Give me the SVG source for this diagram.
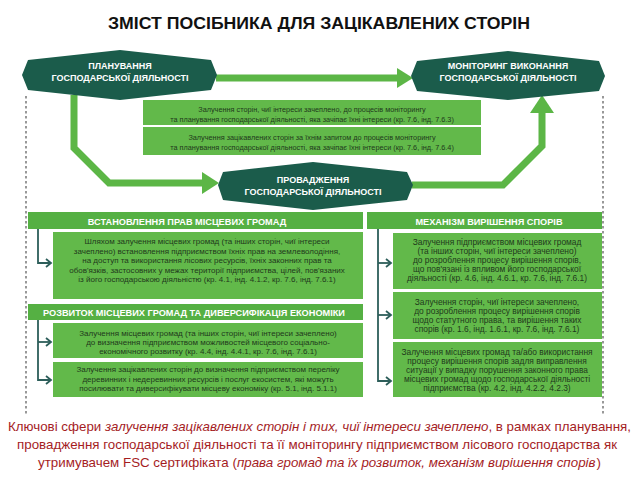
<svg xmlns="http://www.w3.org/2000/svg" width="638" height="479" viewBox="0 0 638 479">
<defs>
<style>
.hex{fill:#1b5c4b}
.hext{font-family:"Liberation Sans",Arial,sans-serif;font-weight:bold;font-size:9px;fill:#ffffff;text-anchor:middle}
.bar{fill:#5cb646}
.hdr{fill:#55b043}
.hdrt{font-family:"Liberation Sans",Arial,sans-serif;font-weight:bold;font-size:9.2px;fill:#ffffff;text-anchor:middle}
.box{fill:#62b94a}
.bt{font-family:"Liberation Sans",Arial,sans-serif;font-size:8px;fill:#1f3a1c;text-anchor:middle}
.bm{font-family:"Liberation Sans",Arial,sans-serif;font-size:7.3px;fill:#1f3a1c;text-anchor:middle}
.br{font-family:"Liberation Sans",Arial,sans-serif;font-size:8.4px;fill:#1f3a1c;text-anchor:middle}
.gc{fill:none;stroke:#5cb646;stroke-width:7;stroke-linejoin:miter}
.ga{fill:#5cb646}
.tc{fill:none;stroke:#2d5e5a;stroke-width:1.8}
.dash{fill:none;stroke:#555;stroke-width:1.2;stroke-dasharray:2.5 2.5}
.cap{font-family:"Liberation Sans",Arial,sans-serif;font-size:13px;fill:#a51d1f;text-anchor:middle}
</style>
<marker id="chev" markerWidth="8" markerHeight="10" refX="6" refY="5" orient="auto" markerUnits="userSpaceOnUse">
<path d="M1,1 L6,5 L1,9" fill="none" stroke="#2d5e5a" stroke-width="1.8"/>
</marker>
</defs>
<rect width="638" height="479" fill="#ffffff"/>

<text x="319" y="29" font-family="Liberation Sans, Arial, sans-serif" font-weight="bold" font-size="16" fill="#111" text-anchor="middle" textLength="422" lengthAdjust="spacingAndGlyphs">ЗМІСТ ПОСІБНИКА ДЛЯ ЗАЦІКАВЛЕНИХ СТОРІН</text>

<g id="dashed">
<line class="dash" x1="26" y1="96" x2="26" y2="415"/>
<line class="dash" x1="603" y1="96" x2="603" y2="415"/>
</g>

<g id="connectors">
<path class="gc" d="M216,78 H399"/>
<polygon class="ga" points="397,68 413,78 397,88"/>
<path class="gc" d="M74,95 V148 L109,183 H204"/>
<polygon class="ga" points="202,172 219,183 202,194"/>
<path class="gc" d="M412,185 H503 L542,146 V111"/>
<polygon class="ga" points="530,113 542,95 554,113"/>
<path class="tc" d="M38,229 V263 H51" marker-end="url(#chev)"/>
<path class="tc" d="M38,320 V380 H51" marker-end="url(#chev)"/>
<path class="tc" d="M38,342 H51" marker-end="url(#chev)"/>
<path class="tc" d="M378,229 V381 H391" marker-end="url(#chev)"/>
<path class="tc" d="M378,263 H391" marker-end="url(#chev)"/>
<path class="tc" d="M378,315 H391" marker-end="url(#chev)"/>
</g>

<g id="planning">
<polygon class="hex" points="22,75 28,60 120,50 211,60 217,75 211,90 120,100 28,90"/>
<text class="hext" x="120" y="69">ПЛАНУВАННЯ</text>
<text class="hext" x="120" y="81">ГОСПОДАРСЬКОЇ ДІЯЛЬНОСТІ</text>
</g>

<g id="monitoring">
<polygon class="hex" points="411,76 417,61 508,51 599,61 605,76 599,91 508,100 417,91"/>
<text class="hext" x="508" y="69">МОНІТОРИНГ ВИКОНАННЯ</text>
<text class="hext" x="508" y="81">ГОСПОДАРСЬКОЇ ДІЯЛЬНОСТІ</text>
</g>

<g id="implementation">
<polygon class="hex" points="218,185 223,172 313,162 407,172 413,185 407,200 313,210 223,200"/>
<text class="hext" x="313" y="182.5">ПРОВАДЖЕННЯ</text>
<text class="hext" x="313" y="195">ГОСПОДАРСЬКОЇ ДІЯЛЬНОСТІ</text>
</g>

<g id="mid1">
<rect class="box" x="143" y="100" width="338" height="25"/>
<text class="bm" x="312" y="112">Залучення сторін, чиї інтереси зачеплено, до процесів моніторингу</text>
<text class="bm" x="312" y="121.5">та планування господарської діяльності, яка зачіпає їхні інтереси (кр. 7.6, інд. 7.6.3)</text>
</g>
<g id="mid2">
<rect class="box" x="143" y="127" width="338" height="28"/>
<text class="bm" x="312" y="140">Залучення зацікавлених сторін за їхнім запитом до процесів моніторингу</text>
<text class="bm" x="312" y="149.5">та планування господарської діяльності, яка зачіпає їхні інтереси (кр. 7.6, інд. 7.6.4)</text>
</g>

<g id="hdr-rights">
<rect class="hdr" x="28" y="212" width="335" height="17"/>
<text class="hdrt" x="187" y="224.5">ВСТАНОВЛЕННЯ ПРАВ МІСЦЕВИХ ГРОМАД</text>
</g>
<g id="hdr-disputes">
<rect class="hdr" x="367" y="212" width="235" height="17"/>
<text class="hdrt" x="489" y="224.5">МЕХАНІЗМ ВИРІШЕННЯ СПОРІВ</text>
</g>

<g id="rights-box">
<rect class="box" x="53" y="232" width="310" height="67"/>
<text class="bt" x="207" y="244">Шляхом залучення місцевих громад (та інших сторін, чиї інтереси</text>
<text class="bt" x="207" y="253.5">зачеплено) встановлення підприємством їхніх прав на землеволодіння,</text>
<text class="bt" x="207" y="263">на доступ та використання лісових ресурсів, їхніх законних прав та</text>
<text class="bt" x="207" y="272.5">обов'язків, застосовних у межах території підприємства, цілей, пов'язаних</text>
<text class="bt" x="207" y="282">із його господарською діяльністю (кр. 4.1, інд. 4.1.2, кр. 7.6, інд. 7.6.1)</text>
</g>

<g id="hdr-development">
<rect class="hdr" x="28" y="304" width="335" height="16"/>
<text class="hdrt" x="194" y="315.5">РОЗВИТОК МІСЦЕВИХ ГРОМАД ТА ДИВЕРСИФІКАЦІЯ ЕКОНОМІКИ</text>
</g>

<g id="dev-box1">
<rect class="box" x="53" y="323" width="310" height="35"/>
<text class="bt" x="208" y="336">Залучення місцевих громад (та інших сторін, чиї інтереси зачеплено)</text>
<text class="bt" x="208" y="345">до визначення підприємством можливостей місцевого соціально-</text>
<text class="bt" x="208" y="354">економічного розвитку (кр. 4.4, інд. 4.4.1, кр. 7.6, інд. 7.6.1)</text>
</g>
<g id="dev-box2">
<rect class="box" x="53" y="362" width="310" height="35"/>
<text class="bt" x="208" y="372">Залучення зацікавлених сторін до визначення підприємством переліку</text>
<text class="bt" x="208" y="381.5">деревинних і недеревинних ресурсів і послуг екосистем, які можуть</text>
<text class="bt" x="208" y="391">посилювати та диверсифікувати місцеву економіку (кр. 5.1, інд. 5.1.1)</text>
</g>

<g id="disp-box1">
<rect class="box" x="393" y="233" width="209" height="56"/>
<text class="br" x="497" y="245">Залучення підприємством місцевих громад</text>
<text class="br" x="497" y="254">(та інших сторін, чиї інтереси зачеплено)</text>
<text class="br" x="497" y="263">до розроблення процесу вирішення спорів,</text>
<text class="br" x="497" y="272">що пов'язані із впливом його господарської</text>
<text class="br" x="497" y="281">діяльності (кр. 4.6, інд. 4.6.1, кр. 7.6, інд. 7.6.1)</text>
</g>
<g id="disp-box2">
<rect class="box" x="393" y="292" width="209" height="47"/>
<text class="br" x="497" y="305">Залучення сторін, чиї інтереси зачеплено,</text>
<text class="br" x="497" y="314">до розроблення процесу вирішення спорів</text>
<text class="br" x="497" y="323">щодо статутного права, та вирішення таких</text>
<text class="br" x="497" y="332">спорів (кр. 1.6, інд. 1.6.1, кр. 7.6, інд. 7.6.1)</text>
</g>
<g id="disp-box3">
<rect class="box" x="393" y="342" width="209" height="55"/>
<text class="br" x="497" y="355">Залучення місцевих громад та/або використання</text>
<text class="br" x="497" y="364">процесу вирішення спорів задля виправлення</text>
<text class="br" x="497" y="373">ситуації у випадку порушення законного права</text>
<text class="br" x="497" y="382">місцевих громад щодо господарської діяльності</text>
<text class="br" x="497" y="391">підприємства (кр. 4.2, інд. 4.2.2, 4.2.3)</text>
</g>

<g id="caption">
<text class="cap" x="319.5" y="431" textLength="623" lengthAdjust="spacingAndGlyphs">Ключові сфери <tspan font-style="italic">залучення зацікавлених сторін і тих, чиї інтереси зачеплено</tspan>, в рамках планування,</text>
<text class="cap" x="317" y="449" textLength="600" lengthAdjust="spacingAndGlyphs">провадження господарської діяльності та її моніторингу підприємством лісового господарства як</text>
<text class="cap" x="319.5" y="467" textLength="563" lengthAdjust="spacingAndGlyphs">утримувачем FSC сертифіката (<tspan font-style="italic">права громад та їх розвиток, механізм вирішення спорів</tspan><tspan dx="1">)</tspan></text>
</g>
</svg>
